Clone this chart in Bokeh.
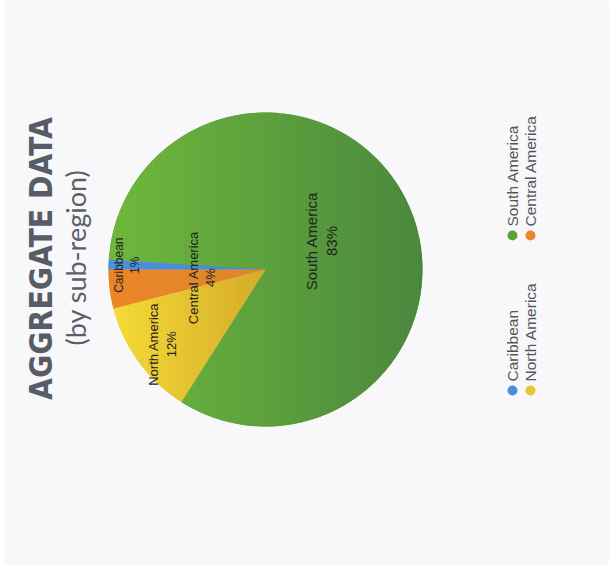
import numpy as np
from bokeh.plotting import figure
from bokeh.models import Range1d
from bokeh.core.properties import value
from bokeh.embed import file_html
from bokeh.resources import INLINE

# ---------------- data ----------------
regions = ["Caribbean", "Central America", "North America", "South America"]
shares = [1, 4, 12, 83]
colors_light = ["#4c93dc", "#ec852a", "#f5dc36", "#70ba3c"]
colors_dark = ["#4686cc", "#da892b", "#d3a92a", "#4a863e"]
colors_mid = ["#4a8fd6", "#e8872b", "#e6c630", "#5ca23c"]
legend_order = ["Caribbean", "South America", "North America", "Central America"]
title_text = "AGGREGATE DATA"
subtitle_text = "(by sub-region)"

# ---------------- layout ----------------
W, H = 609, 565
LEFT = 4
cx, cy, R = 265, 296, 157
label_rfrac = [0.88, 0.41, 0.81, 0.40]
label_sizes = ["12px", "13px", "13px", "15px"]

p = figure(width=W, height=H, x_range=Range1d(LEFT, W), y_range=Range1d(0, H),
           output_backend="svg", toolbar_location=None, min_border=0,
           min_border_left=LEFT)
p.axis.visible = False
p.grid.visible = False
p.background_fill_color = "#f8f8fa"
p.border_fill_color = "#ffffff"
p.outline_line_color = None

frac = np.array(shares, dtype=float) / sum(shares)
start0 = np.pi - frac[0] * 2 * np.pi
starts = start0 + np.concatenate([[0.0], np.cumsum(frac)[:-1]]) * 2 * np.pi
ends = starts + frac * 2 * np.pi

# base wedges
p.wedge(x=cx, y=cy, radius=R, start_angle=list(starts), end_angle=list(ends),
        fill_color=colors_mid, line_color=None)


def hex2rgb(h):
    h = h.lstrip("#")
    return np.array([int(h[i:i + 2], 16) for i in (0, 2, 4)], dtype=float)


def rgb2hex(c):
    return "#%02x%02x%02x" % tuple(int(round(v)) for v in c)


def clip(poly, x0, keep_greater):
    out = []
    n = len(poly)
    for i in range(n):
        P = poly[i]
        Q = poly[(i + 1) % n]
        pin = P[0] >= x0 if keep_greater else P[0] <= x0
        qin = Q[0] >= x0 if keep_greater else Q[0] <= x0
        if pin:
            out.append(P)
        if pin != qin:
            t = (x0 - P[0]) / (Q[0] - P[0])
            out.append((x0, P[1] + t * (Q[1] - P[1])))
    return out


# gradient strips, drawn largest slice first so that others sit on top
order = sorted(range(len(regions)), key=lambda i: -frac[i])
for i in order:
    n_arc = max(6, int(np.degrees(ends[i] - starts[i]) * 1.5))
    th = np.linspace(starts[i], ends[i], n_arc)
    poly = [(cx, cy)] + [(cx + R * np.cos(t), cy + R * np.sin(t)) for t in th]
    xs_all = [q[0] for q in poly]
    xmin, xmax = min(xs_all), max(xs_all)
    nstrip = max(2, int((xmax - xmin) / 2.5))
    edges = np.linspace(xmin, xmax, nstrip + 1)
    cl, cd = hex2rgb(colors_light[i]), hex2rgb(colors_dark[i])
    sx, sy, sc = [], [], []
    for k in range(nstrip):
        piece = clip(poly, edges[k], True)
        if len(piece) < 3:
            continue
        piece = clip(piece, edges[k + 1], False)
        if len(piece) < 3:
            continue
        t = (0.5 * (edges[k] + edges[k + 1]) - xmin) / (xmax - xmin)
        sx.append([q[0] for q in piece])
        sy.append([q[1] for q in piece])
        sc.append(rgb2hex(cl + (cd - cl) * t))
    p.patches(xs=sx, ys=sy, fill_color=sc, line_color=None)

# slice labels
mids = 0.5 * (starts + ends)
lx = [cx + label_rfrac[i] * R * np.cos(mids[i]) for i in range(len(regions))]
ly = [cy + label_rfrac[i] * R * np.sin(mids[i]) for i in range(len(regions))]
labels = [f"{regions[i]}\n{shares[i]}%" for i in range(len(regions))]
p.text(x=lx, y=ly, text=labels, angle=np.pi / 2, text_align="center",
       text_baseline="middle", text_font=value("Liberation Sans"),
       text_font_size=label_sizes, text_color="#222222", text_line_height=1.15)

# title
p.text(x=[40], y=[307], text=[title_text], angle=np.pi / 2, text_align="center",
       text_baseline="middle", text_font=value("DejaVu Sans Condensed"),
       text_font_style="bold", text_font_size="31.5px", text_color="#575c66")
p.text(x=[75], y=[308], text=[subtitle_text], angle=np.pi / 2, text_align="center",
       text_baseline="middle", text_font=value("Lato"),
       text_font_size="27px", text_color="#5a5f69")

# legend (rotated, two columns)
leg_cols = [512, 512, 530, 530]
leg_rows = [175, 330, 175, 330]
leg_colors = [colors_mid[regions.index(n)] for n in legend_order]
p.scatter(x=leg_cols, y=leg_rows, size=10, fill_color=leg_colors, line_color=None)
p.text(x=leg_cols, y=[r + 9 for r in leg_rows], text=legend_order, angle=np.pi / 2,
       text_align="left", text_baseline="middle", text_font=value("Liberation Sans"),
       text_font_size="15.5px", text_color="#555555")

open("out.html", "w").write(file_html(p, INLINE))
